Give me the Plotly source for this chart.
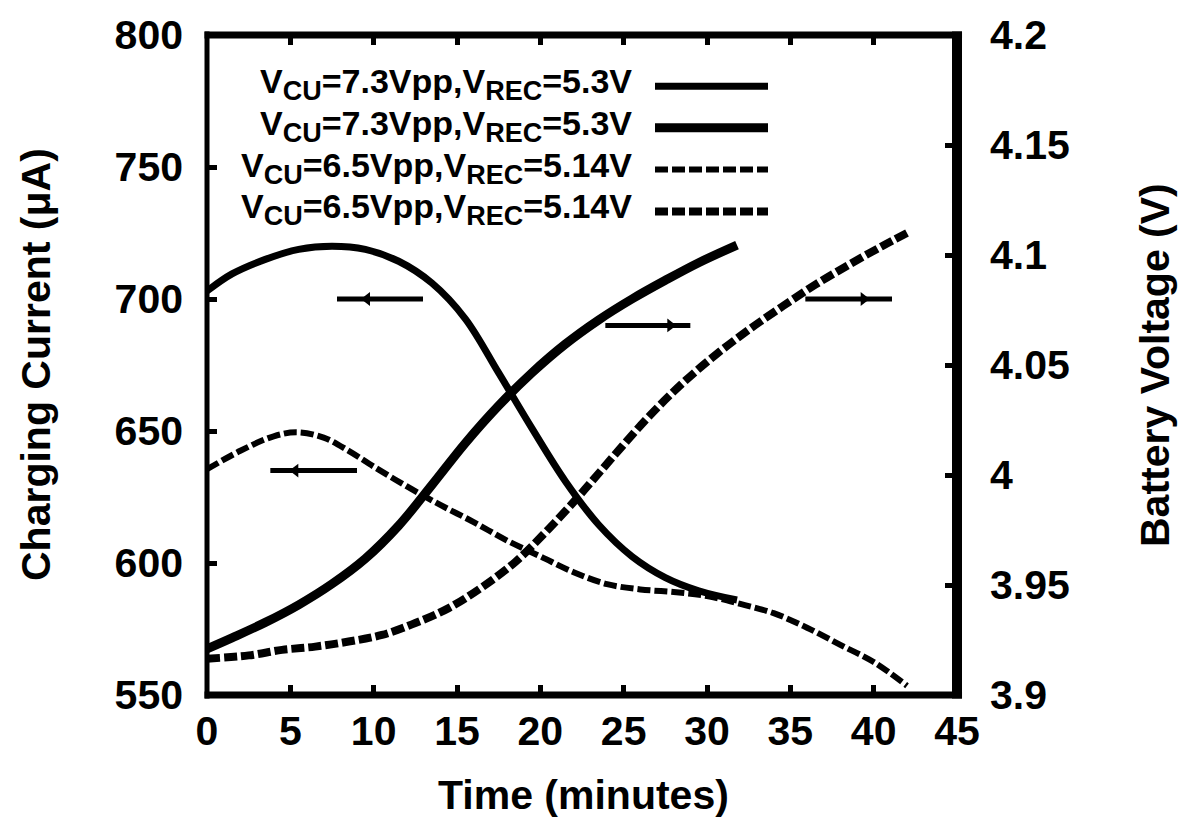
import plotly.graph_objects as go

# ---- measured data -------------------------------------------------------
# charging current (uA) vs time (minutes)
t_cur_73 = [0, 1.5, 3.5, 5.5, 7.5, 9.5, 11.5, 13.5, 15.5, 17.5, 19.5, 21.5,
            23.5, 25.5, 27.5, 29.5, 31.8]
i_cur_73 = [703, 709.5, 715, 718.8, 720, 718.8, 714.3, 706, 692.5, 672,
            651, 631, 614.5, 602.5, 594.5, 589.5, 586]

t_cur_65 = [0, 2, 4, 5.4, 7, 8.5, 10, 12, 14, 16, 18, 20, 22, 24, 26, 28, 30,
            32, 34, 36, 38, 40, 42]
i_cur_65 = [635.5, 642.5, 648, 649.5, 647.5, 642.5, 636.5, 629, 622, 615.5,
            608.5, 602.5, 596.5, 592, 590, 589, 587.5, 584.5, 581, 575.5, 569,
            562.5, 553.5]

# battery voltage (V) vs time (minutes)
t_vbat_73 = [0, 1.5, 3.5, 5.5, 7.5, 9.5, 11.5, 13.5, 15.5, 17.5, 19.5, 21.5,
             23.5, 25.5, 27.5, 29.5, 31.8]
v_bat_73 = [3.921, 3.926, 3.933, 3.941, 3.9505, 3.962, 3.977, 3.9955,
            4.0145, 4.0315, 4.0465, 4.0595, 4.0705, 4.080, 4.0885, 4.0965,
            4.1045]

t_vbat_65 = [0, 2.5, 4.5, 6.5, 8.5, 10.5, 12.5, 14.5, 16.5, 18.5, 20.5, 22.5,
             24.5, 26.5, 28.5, 30.5, 32.5, 34.5, 36.5, 38.5, 40.5, 42]
v_bat_65 = [3.9165, 3.918, 3.9205, 3.922, 3.9243, 3.9273, 3.9327, 3.9395,
            3.949, 3.9605, 3.9755, 3.992, 4.0095, 4.0265, 4.0415, 4.0545,
            4.066, 4.0765, 4.0865, 4.0955, 4.104, 4.11]

# axis ticks
x_ticks = [0, 5, 10, 15, 20, 25, 30, 35, 40, 45]
y_cur_ticks = [550, 600, 650, 700, 750, 800]
y_volt_ticks = [3.9, 3.95, 4.0, 4.05, 4.1, 4.15, 4.2]
y_volt_labels = ["3.9", "3.95", "4", "4.05", "4.1", "4.15", "4.2"]

# legend entries
legend_labels = [
    "V<sub>CU</sub>=7.3Vpp,V<sub>REC</sub>=5.3V",
    "V<sub>CU</sub>=7.3Vpp,V<sub>REC</sub>=5.3V",
    "V<sub>CU</sub>=6.5Vpp,V<sub>REC</sub>=5.14V",
    "V<sub>CU</sub>=6.5Vpp,V<sub>REC</sub>=5.14V",
]

# arrows showing which axis each pair of curves belongs to
arrow_tail_t = [12.96, 23.9, 9.0, 35.9]
arrow_tip_t = [7.8, 29.0, 3.8, 41.1]
arrow_level = [700, 4.068, 635, 4.08]
arrow_head_t = [9.6, 27.8, 5.3, 39.4]
arrow_axis = ["y", "y2", "y", "y2"]

# ---- styling -------------------------------------------------------------
W, H = 1179, 819
ML, MR, MT, MB = 207, 222, 33, 124
PW, PH = W - ML - MR, H - MT - MB
FONT = "Liberation Sans, Arial, Helvetica, sans-serif"
DASH = "13px,4px"

line_styles = [
    dict(color="black", width=7),
    dict(color="black", width=9),
    dict(color="black", width=6, dash=DASH),
    dict(color="black", width=8, dash=DASH),
]


def px_x(p):
    return (p - ML) / PW


def px_y(p):
    return (MT + PH - p) / PH


fig = go.Figure()

series = [
    (t_cur_73, i_cur_73, "y"),
    (t_vbat_73, v_bat_73, "y2"),
    (t_cur_65, i_cur_65, "y"),
    (t_vbat_65, v_bat_65, "y2"),
]
for (tx, vy, ax), st in zip(series, line_styles):
    fig.add_trace(go.Scatter(
        x=tx, y=vy, yaxis=ax, mode="lines",
        line=dict(shape="spline", smoothing=1.0, **st),
        hoverinfo="skip",
    ))

for tail, tip, lev, head, ax in zip(arrow_tail_t, arrow_tip_t, arrow_level,
                                    arrow_head_t, arrow_axis):
    fig.add_trace(go.Scatter(
        x=[tail, tip], y=[lev, lev], yaxis=ax, mode="lines",
        line=dict(color="black", width=5), hoverinfo="skip",
    ))
    fig.add_trace(go.Scatter(
        x=[head], y=[lev], yaxis=ax, mode="markers",
        marker=dict(symbol="triangle-left" if tip < tail else "triangle-right",
                    size=12, color="black"),
        hoverinfo="skip",
    ))

axis_common = dict(
    ticks="inside", tickcolor="black", tickwidth=5,
    showgrid=False, zeroline=False, showline=False,
    tickfont=dict(family=FONT, size=41, color="black", weight="bold"),
)

fig.update_layout(
    width=W, height=H,
    margin=dict(l=ML, r=MR, t=MT, b=MB, pad=0),
    paper_bgcolor="white", plot_bgcolor="white",
    showlegend=False,
    font=dict(family=FONT, color="black", weight="bold"),
    xaxis=dict(range=[0, 45], tickvals=x_ticks, ticklen=10, mirror="ticks",
               ticklabelstandoff=8, **axis_common),
    yaxis=dict(range=[550, 800], tickvals=y_cur_ticks, ticklen=10,
               ticklabelstandoff=23, **axis_common),
    yaxis2=dict(range=[3.9, 4.2], tickvals=y_volt_ticks,
                ticktext=y_volt_labels, overlaying="y", side="right",
                ticklen=12, ticklabelstandoff=32, **axis_common),
)

# plot frame
frame = [
    (0, -0.0053, 0, 1.0053, 5),
    (1, -0.0053, 1, 1.0053, 10),
    (-0.0033, 0, 1.0067, 0, 7),
    (-0.0033, 1, 1.0067, 1, 7),
]
for x0, y0, x1, y1, w in frame:
    fig.add_shape(type="line", xref="paper", yref="paper",
                  x0=x0, y0=y0, x1=x1, y1=y1,
                  line=dict(color="black", width=w), layer="above")

# legend block: right-aligned labels with line samples to their right
legend_rows_px = [84.5, 126, 168, 210]
for label, row, st in zip(legend_labels, legend_rows_px, line_styles):
    txt = label.replace("<sub>", "<sub><span style='font-size:27px'>") \
               .replace("</sub>", "</span></sub>")
    fig.add_annotation(
        xref="paper", yref="paper", x=px_x(634), y=px_y(row - 2),
        xanchor="right", yanchor="middle", showarrow=False,
        text=txt, font=dict(family=FONT, size=34, color="black",
                            weight="bold"),
    )
    fig.add_shape(type="line", xref="paper", yref="paper",
                  x0=px_x(655), x1=px_x(768), y0=px_y(row), y1=px_y(row),
                  line=st)

# axis titles
fig.add_annotation(xref="paper", yref="paper", x=px_x(36), y=0.5,
                   text="Charging Current (\u03bcA)", textangle=-90,
                   showarrow=False, xanchor="center", yanchor="middle",
                   font=dict(family=FONT, size=41, color="black",
                             weight="bold"))
fig.add_annotation(xref="paper", yref="paper", x=px_x(1155), y=0.5,
                   text="Battery Voltage (V)", textangle=-90,
                   showarrow=False, xanchor="center", yanchor="middle",
                   font=dict(family=FONT, size=41, color="black",
                             weight="bold"))
fig.add_annotation(xref="paper", yref="paper", x=px_x(583), y=px_y(795),
                   text="Time (minutes)", showarrow=False,
                   xanchor="center", yanchor="middle",
                   font=dict(family=FONT, size=41, color="black",
                             weight="bold"))

fig.write_html("out.html")
